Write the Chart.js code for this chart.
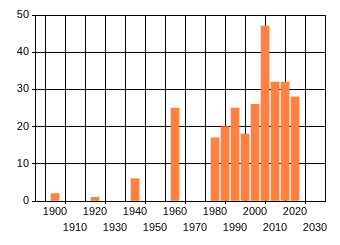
<!DOCTYPE html>
<html><head><meta charset="utf-8">
<script src="https://cdn.jsdelivr.net/npm/chart.js@4/dist/chart.umd.min.js"></script>
<style>html,body{margin:0;padding:0;background:#fff}#wrap{width:340px;height:245px}</style>
</head><body><div id="wrap"><canvas id="c" width="340" height="245"></canvas></div>
<script>
const years = [1900,1920,1940,1960,1980,1985,1990,1995,2000,2005,2010,2015,2020];
const counts = [2,1,6,25,17,20,25,18,26,47,32,32,28];
const xMin = 1890, xMax = 2035, xStep = 10;
const yMin = 0, yMax = 50, yStep = 10;

const font = {family: '"Liberation Sans", Arial, sans-serif', size: 11, lineHeight: 16/11};
new Chart(document.getElementById('c'), {
  type: 'bar',
  data: { datasets: [{ data: years.map((y,i)=>({x:y,y:counts[i]})), backgroundColor: 'rgb(255,128,64)', barThickness: 8, borderWidth: 0 }] },
  options: {
    responsive: false, animation: false, devicePixelRatio: 1,
    layout: { padding: { top: 15, right: 15, left: 0, bottom: 0 } },
    plugins: { legend: { display: false }, tooltip: { enabled: false } },
    scales: {
      x: {
        type: 'linear', min: xMin, max: xMax, offset: false,
        afterBuildTicks: s => { const t=[]; for (let v=xMin; v<=2030; v+=xStep) t.push({value:v}); s.ticks = t; },
        afterFit: s => { s.height = 44; },
        border: { display: true, color: '#000', width: 1 },
        grid: { color: '#000', lineWidth: 1, drawTicks: true, tickLength: 3,
          tickColor: ctx => { const v = ctx.tick ? ctx.tick.value : 0; return ((v - 1900) / 10) % 2 === 0 ? 'rgba(0,0,0,0)' : '#000'; } },
        ticks: { color: '#000', font, padding: 0, maxRotation: 0, autoSkip: false,
          callback: v => { if (v === xMin) return ''; return ((v - 1900) / 10) % 2 === 0 ? [String(v)] : ['', String(v)]; } }
      },
      y: {
        min: yMin, max: yMax,
        afterFit: s => { s.width = 35; },
        border: { display: true, color: '#000', width: 1 },
        grid: { color: '#000', lineWidth: 1, tickLength: 3, tickColor: '#000' },
        ticks: { stepSize: yStep, color: '#000', font, padding: 3 }
      }
    }
  }
});
</script></body></html>
